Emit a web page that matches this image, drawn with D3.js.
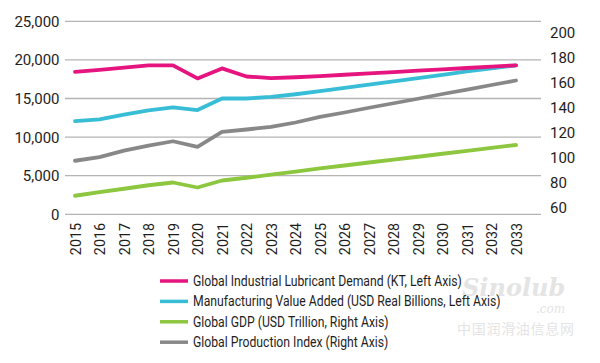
<!DOCTYPE html>
<html><head><meta charset="utf-8">
<script src="https://cdn.jsdelivr.net/npm/d3@7"></script>
<style>body{margin:0;background:#fff}svg{display:block}</style>
</head><body><svg id="c" width="600" height="363"></svg>
<script>
const years = ["2015","2016","2017","2018","2019","2020","2021","2022","2023","2024","2025","2026","2027","2028","2029","2030","2031","2032","2033"];
const leftTicks = [0,5000,10000,15000,20000,25000];
const rightTicks = [60,80,100,120,140,160,180,200];
const lubricantDemand = [18450,18700,19000,19300,19300,17600,18900,17850,17650,17750,17900,18075,18250,18425,18600,18775,18950,19125,19300];
const manufacturingVA = [12080,12300,12900,13450,13850,13500,15000,15000,15200,15550,15950,16375,16800,17225,17650,18075,18500,18900,19300];
const globalGDP = [69.4,72.3,75.0,77.8,80.0,76.0,81.6,83.8,86.3,88.7,91.3,93.6,96.0,98.3,100.6,103.0,105.3,107.7,110.0];
const productionIndex = [97.4,100.3,105.5,109.5,113.0,108.5,120.5,122.4,124.5,128.0,132.5,136.0,139.8,143.4,147.0,150.8,154.3,158.0,161.6];
const seriesNames = ["Global Industrial Lubricant Demand (KT, Left Axis)","Manufacturing Value Added (USD Real Billions, Left Axis)","Global GDP (USD Trillion, Right Axis)","Global Production Index (Right Axis)"];
const seriesColors = ["#e5147f","#38bdd6","#8dc63f","#888888"];

const svg = d3.select("#c");
const font = "Roboto, 'Noto Sans', sans-serif";
const x = d3.scalePoint().domain(years).range([75,516]);
const yL = d3.scaleLinear().domain([0,25000]).range([214.3,21.3]);
const yR = d3.scaleLinear().domain([60,200]).range([207.5,32.5]);

// gridlines
svg.append("g").selectAll("line").data(leftTicks).join("line")
  .attr("x1",65).attr("x2",541).attr("y1",d=>yL(d)).attr("y2",d=>yL(d))
  .attr("stroke","#b4b4b4").attr("stroke-width",1.3);

// left axis labels
const fmt = d3.format(",");
svg.append("g").selectAll("text").data(leftTicks).join("text")
  .attr("x",59.5).attr("y",d=>yL(d)).attr("dy","0.36em").attr("text-anchor","end")
  .attr("font-family",font).attr("font-size",15).attr("fill","#1e1e1e").text(d=>fmt(d));

// right axis labels
svg.append("g").selectAll("text").data(rightTicks).join("text")
  .attr("x",550).attr("y",d=>yR(d)).attr("dy","0.36em").attr("text-anchor","start")
  .attr("font-family",font).attr("font-size",15).attr("fill","#1e1e1e").text(d=>d);

// year labels
svg.append("g").selectAll("text").data(years).join("text")
  .attr("transform",d=>`translate(${x(d)+0.8},223) rotate(-90)`)
  .attr("dy","0.36em").attr("text-anchor","end")
  .attr("font-family",font).attr("font-size",14.3).attr("fill","#1e1e1e").text(d=>d);

// lines
const series = [
  {v:lubricantDemand, s:yL},
  {v:manufacturingVA, s:yL},
  {v:globalGDP, s:yR},
  {v:productionIndex, s:yR}
];
const drawOrder = [2,3,1,0];
drawOrder.forEach(i=>{
  const sr = series[i];
  const line = d3.line().x((d,j)=>x(years[j])).y(d=>sr.s(d));
  svg.append("path").attr("d",line(sr.v)).attr("fill","none")
    .attr("stroke",seriesColors[i]).attr("stroke-width",3.8)
    .attr("stroke-linejoin","round").attr("stroke-linecap","round");
});

// watermark (behind legend text)
const wm = svg.append("g").attr("fill","#e4e4e4");
wm.append("text").attr("x",462).attr("y",296).attr("font-family","'DejaVu Serif', serif")
  .attr("font-style","italic").attr("font-weight","bold").attr("font-size",24).text("Sinolub");
wm.append("text").attr("x",536).attr("y",313).attr("font-family","'DejaVu Serif', serif")
  .attr("font-style","italic").attr("font-size",12).text(".com");
wm.append("text").attr("x",457).attr("y",334).attr("font-family","'Noto Sans CJK SC', sans-serif")
  .attr("font-size",14).attr("textLength",117).text("中国润滑油信息网");

// legend
const lg = svg.append("g");
const items = lg.selectAll("g").data(seriesNames).join("g")
  .attr("transform",(d,i)=>`translate(0,${281+i*20.4})`);
items.append("line").attr("x1",160).attr("x2",188).attr("y1",0).attr("y2",0)
  .attr("stroke",(d,i)=>seriesColors[i]).attr("stroke-width",3.5);
const lt = items.append("text").attr("x",0).attr("y",0).attr("dy","0.36em")
  .attr("font-family",font).attr("font-size",14).attr("fill","#1e1e1e").text(d=>d);
const w0 = lt.node().getComputedTextLength();
const sx = 269 / w0;
lt.attr("transform",`translate(193,0) scale(${sx},1)`);
</script></body></html>
